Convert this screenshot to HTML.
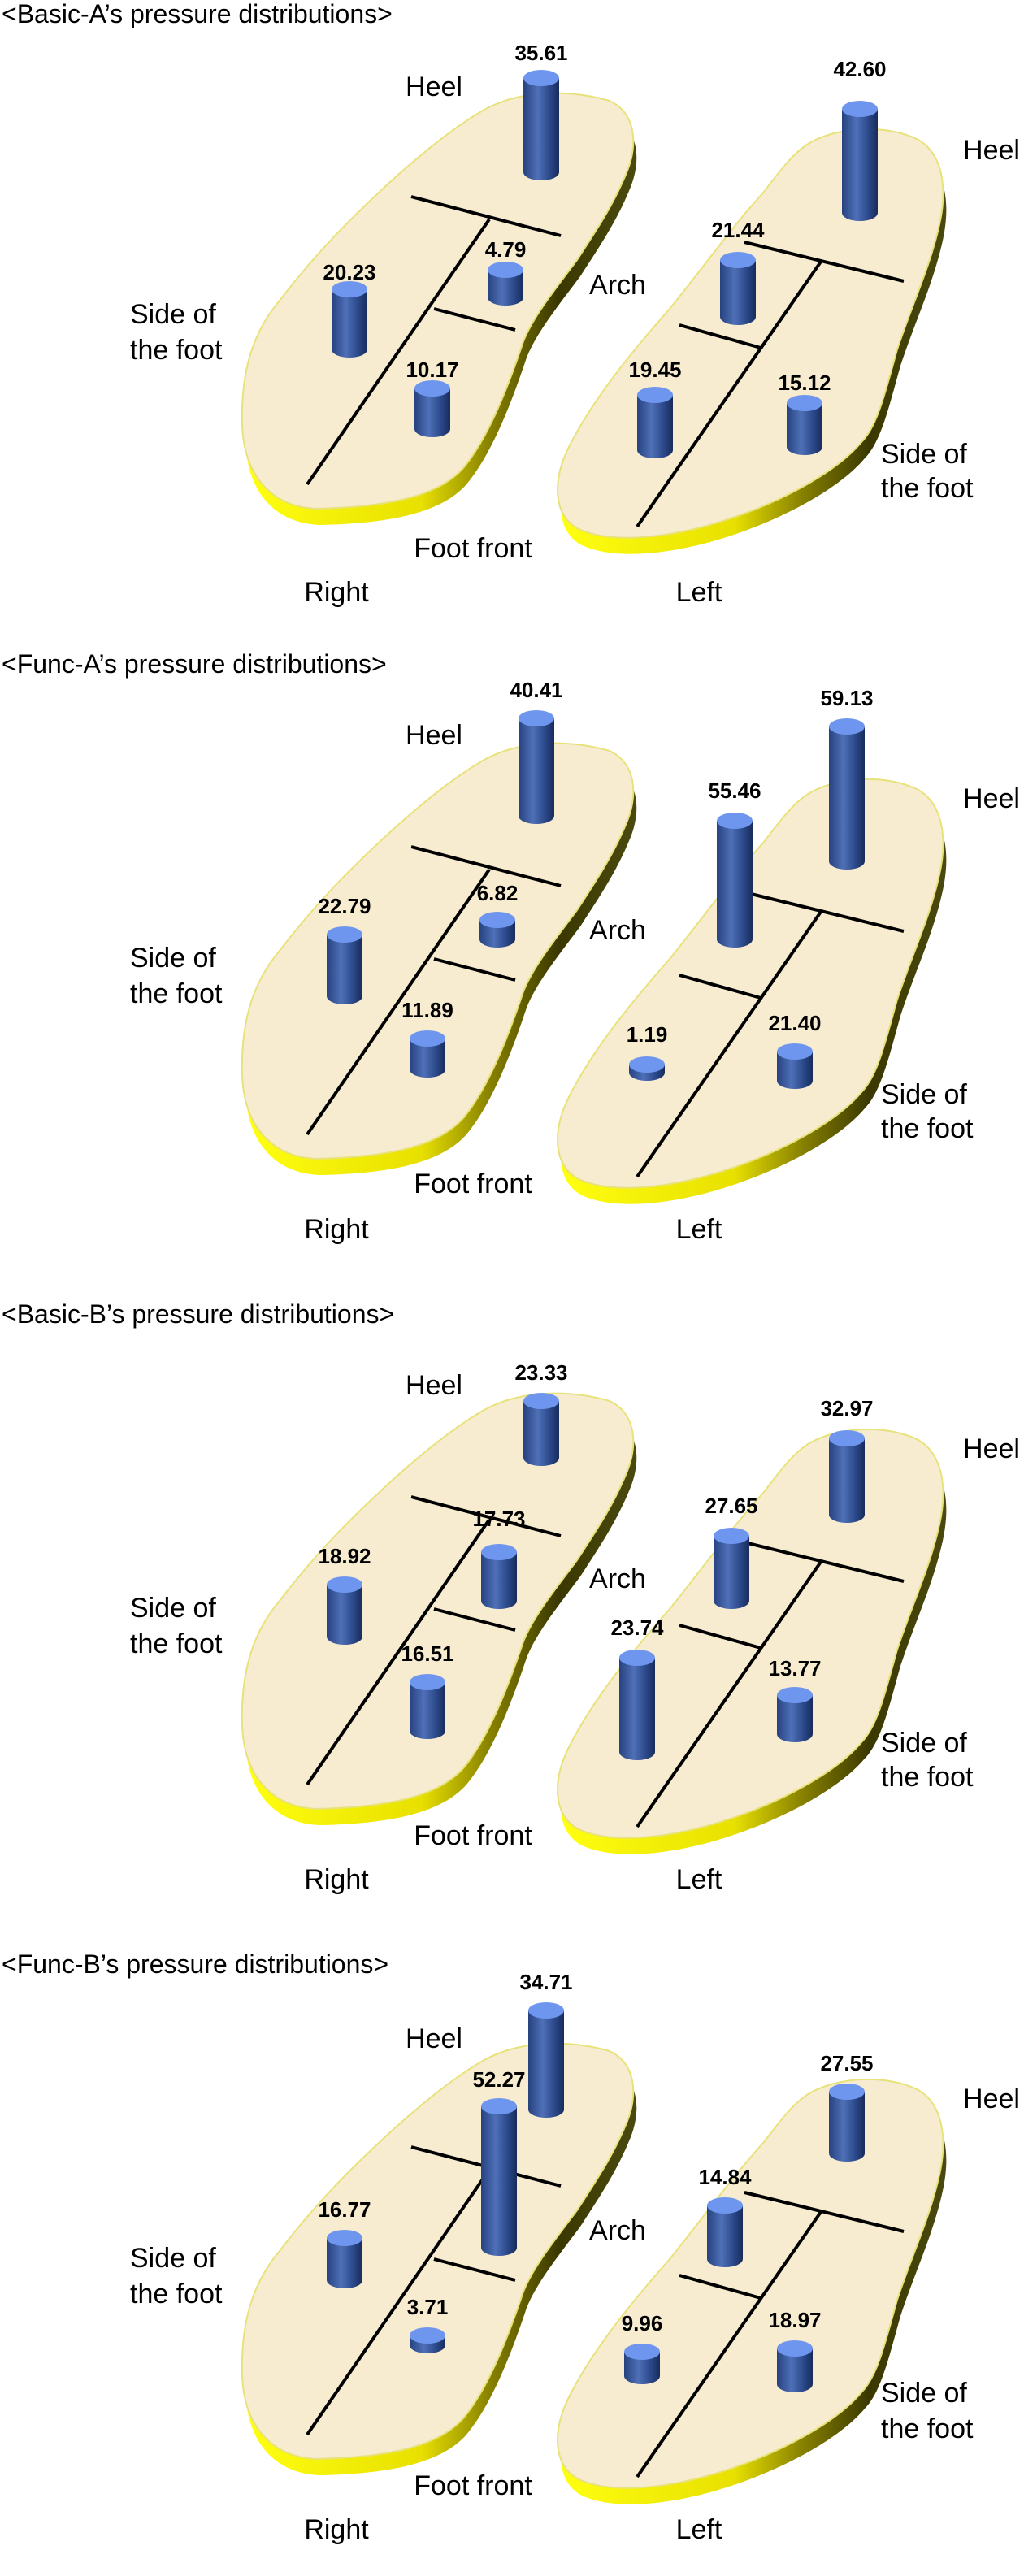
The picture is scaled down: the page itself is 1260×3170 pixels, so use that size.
<!DOCTYPE html>
<html><head><meta charset="utf-8"><style>
html,body{margin:0;padding:0;background:#fff;}
svg{display:block;}
text{font-family:"Liberation Sans","DejaVu Sans",sans-serif;}
.lb{font-size:17px;fill:#000;}
.nm{font-size:13px;font-weight:bold;fill:#000;text-anchor:middle;}
.tt{font-size:16px;fill:#000;}
.ln{stroke:#000;stroke-width:2;fill:none;}
</style></head><body>
<svg width="1260" height="3170" viewBox="0 0 630 1585" xmlns="http://www.w3.org/2000/svg">
<defs>
<linearGradient id="rim" x1="0" y1="0" x2="1" y2="0">
<stop offset="0" stop-color="#ffff10"/><stop offset="0.45" stop-color="#e8e000"/><stop offset="0.62" stop-color="#8a8400"/><stop offset="0.8" stop-color="#3a3800"/><stop offset="1" stop-color="#4a4a10"/>
</linearGradient>
<linearGradient id="cyl" x1="0" y1="0" x2="1" y2="0">
<stop offset="0" stop-color="#26427e"/><stop offset="0.4" stop-color="#4f70b8"/><stop offset="0.75" stop-color="#2a4788"/><stop offset="1" stop-color="#182c5c"/>
</linearGradient>
<path id="rf" d="M297,68 C320,55 350,55 375,62 C392,70 392,90 386,105 C378,125 368,140 355,160 C340,180 328,195 322,210 C312,240 300,270 285,288 C270,305 240,312 195,313 C165,312 150,290 149,262 C148,230 155,205 172,185 C195,155 215,135 240,112 C262,92 280,78 297,68 Z"/>
<path id="lf" d="M498,88 C515,78 545,76 565,86 C582,96 582,120 578,138 C572,165 562,185 552,215 C545,240 540,262 530,272 C515,290 480,310 440,322 C410,331 375,335 355,325 C340,316 340,295 350,275 C365,245 390,215 412,190 C430,168 450,140 470,118 C480,105 488,94 498,88 Z"/>
<g id="feet">
<use href="#rf" transform="translate(2,10)" fill="url(#rim)"/>
<use href="#rf" fill="#f7ebd0" stroke="#e8e27a" stroke-width="1"/>
<use href="#lf" transform="translate(2,10)" fill="url(#rim)"/>
<use href="#lf" fill="#f7ebd0" stroke="#e8e27a" stroke-width="1"/>
<line class="ln" x1="253" y1="121" x2="345" y2="145"/>
<line class="ln" x1="301" y1="135" x2="189" y2="298"/>
<line class="ln" x1="267" y1="190" x2="317" y2="203"/>
<line class="ln" x1="458" y1="149" x2="556" y2="173"/>
<line class="ln" x1="505" y1="161" x2="392" y2="324"/>
<line class="ln" x1="418" y1="200" x2="468" y2="214"/>
</g>
</defs>

<!-- Panel 1 -->
<g transform="translate(0,0)">
<text class="tt" x="1" y="14">&lt;Basic-A’s pressure distributions&gt;</text>
<use href="#feet"/>
<text class="lb" x="267" y="59" text-anchor="middle">Heel</text>
<text class="lb" x="380" y="181" text-anchor="middle">Arch</text>
<text class="lb" x="80" y="199">Side of</text><text class="lb" x="80" y="221">the foot</text>
<text class="lb" x="291" y="343" text-anchor="middle">Foot front</text>
<text class="lb" x="207" y="370" text-anchor="middle">Right</text>
<text class="lb" x="430" y="370" text-anchor="middle">Left</text>
<text class="lb" x="610" y="98" text-anchor="middle">Heel</text>
<text class="lb" x="542" y="285">Side of</text><text class="lb" x="542" y="306">the foot</text>
<g><rect x="322" y="48" width="22" height="58" fill="url(#cyl)"/><ellipse cx="333" cy="106" rx="11" ry="5" fill="url(#cyl)"/><ellipse cx="333" cy="48" rx="11" ry="5" fill="#6f96ee"/><text class="nm" x="333" y="37">35.61</text></g>
<g><rect x="300" y="166" width="22" height="17" fill="url(#cyl)"/><ellipse cx="311" cy="183" rx="11" ry="5" fill="url(#cyl)"/><ellipse cx="311" cy="166" rx="11" ry="5" fill="#6f96ee"/><text class="nm" x="311" y="158">4.79</text></g>
<g><rect x="204" y="178" width="22" height="37" fill="url(#cyl)"/><ellipse cx="215" cy="215" rx="11" ry="5" fill="url(#cyl)"/><ellipse cx="215" cy="178" rx="11" ry="5" fill="#6f96ee"/><text class="nm" x="215" y="172">20.23</text></g>
<g><rect x="255" y="239" width="22" height="25" fill="url(#cyl)"/><ellipse cx="266" cy="264" rx="11" ry="5" fill="url(#cyl)"/><ellipse cx="266" cy="239" rx="11" ry="5" fill="#6f96ee"/><text class="nm" x="266" y="232">10.17</text></g>
<g><rect x="518" y="67" width="22" height="64" fill="url(#cyl)"/><ellipse cx="529" cy="131" rx="11" ry="5" fill="url(#cyl)"/><ellipse cx="529" cy="67" rx="11" ry="5" fill="#6f96ee"/><text class="nm" x="529" y="47">42.60</text></g>
<g><rect x="443" y="160" width="22" height="35" fill="url(#cyl)"/><ellipse cx="454" cy="195" rx="11" ry="5" fill="url(#cyl)"/><ellipse cx="454" cy="160" rx="11" ry="5" fill="#6f96ee"/><text class="nm" x="454" y="146">21.44</text></g>
<g><rect x="392" y="243" width="22" height="34" fill="url(#cyl)"/><ellipse cx="403" cy="277" rx="11" ry="5" fill="url(#cyl)"/><ellipse cx="403" cy="243" rx="11" ry="5" fill="#6f96ee"/><text class="nm" x="403" y="232">19.45</text></g>
<g><rect x="484" y="248" width="22" height="27" fill="url(#cyl)"/><ellipse cx="495" cy="275" rx="11" ry="5" fill="url(#cyl)"/><ellipse cx="495" cy="248" rx="11" ry="5" fill="#6f96ee"/><text class="nm" x="495" y="240">15.12</text></g>
</g>

<!-- Panel 2 -->
<g transform="translate(0,400)">
<text class="tt" x="1" y="14">&lt;Func-A’s pressure distributions&gt;</text>
<use href="#feet"/>
<text class="lb" x="267" y="58" text-anchor="middle">Heel</text>
<text class="lb" x="380" y="178" text-anchor="middle">Arch</text>
<text class="lb" x="80" y="195">Side of</text><text class="lb" x="80" y="217">the foot</text>
<text class="lb" x="291" y="334" text-anchor="middle">Foot front</text>
<text class="lb" x="207" y="362" text-anchor="middle">Right</text>
<text class="lb" x="430" y="362" text-anchor="middle">Left</text>
<text class="lb" x="610" y="97" text-anchor="middle">Heel</text>
<text class="lb" x="542" y="279">Side of</text><text class="lb" x="542" y="300">the foot</text>
<g><rect x="319" y="42" width="22" height="60" fill="url(#cyl)"/><ellipse cx="330" cy="102" rx="11" ry="5" fill="url(#cyl)"/><ellipse cx="330" cy="42" rx="11" ry="5" fill="#6f96ee"/><text class="nm" x="330" y="29">40.41</text></g>
<g><rect x="295" y="166" width="22" height="12" fill="url(#cyl)"/><ellipse cx="306" cy="178" rx="11" ry="5" fill="url(#cyl)"/><ellipse cx="306" cy="166" rx="11" ry="5" fill="#6f96ee"/><text class="nm" x="306" y="154">6.82</text></g>
<g><rect x="201" y="175" width="22" height="38" fill="url(#cyl)"/><ellipse cx="212" cy="213" rx="11" ry="5" fill="url(#cyl)"/><ellipse cx="212" cy="175" rx="11" ry="5" fill="#6f96ee"/><text class="nm" x="212" y="162">22.79</text></g>
<g><rect x="252" y="239" width="22" height="19" fill="url(#cyl)"/><ellipse cx="263" cy="258" rx="11" ry="5" fill="url(#cyl)"/><ellipse cx="263" cy="239" rx="11" ry="5" fill="#6f96ee"/><text class="nm" x="263" y="226">11.89</text></g>
<g><rect x="510" y="47" width="22" height="83" fill="url(#cyl)"/><ellipse cx="521" cy="130" rx="11" ry="5" fill="url(#cyl)"/><ellipse cx="521" cy="47" rx="11" ry="5" fill="#6f96ee"/><text class="nm" x="521" y="34">59.13</text></g>
<g><rect x="441" y="105" width="22" height="73" fill="url(#cyl)"/><ellipse cx="452" cy="178" rx="11" ry="5" fill="url(#cyl)"/><ellipse cx="452" cy="105" rx="11" ry="5" fill="#6f96ee"/><text class="nm" x="452" y="91">55.46</text></g>
<g><rect x="387" y="255" width="22" height="5" fill="url(#cyl)"/><ellipse cx="398" cy="260" rx="11" ry="5" fill="url(#cyl)"/><ellipse cx="398" cy="255" rx="11" ry="5" fill="#6f96ee"/><text class="nm" x="398" y="241">1.19</text></g>
<g><rect x="478" y="247" width="22" height="18" fill="url(#cyl)"/><ellipse cx="489" cy="265" rx="11" ry="5" fill="url(#cyl)"/><ellipse cx="489" cy="247" rx="11" ry="5" fill="#6f96ee"/><text class="nm" x="489" y="234">21.40</text></g>
</g>

<!-- Panel 3 -->
<g transform="translate(0,800)">
<text class="tt" x="1" y="14">&lt;Basic-B’s pressure distributions&gt;</text>
<use href="#feet"/>
<text class="lb" x="267" y="58" text-anchor="middle">Heel</text>
<text class="lb" x="380" y="177" text-anchor="middle">Arch</text>
<text class="lb" x="80" y="195">Side of</text><text class="lb" x="80" y="217">the foot</text>
<text class="lb" x="291" y="335" text-anchor="middle">Foot front</text>
<text class="lb" x="207" y="362" text-anchor="middle">Right</text>
<text class="lb" x="430" y="362" text-anchor="middle">Left</text>
<text class="lb" x="610" y="97" text-anchor="middle">Heel</text>
<text class="lb" x="542" y="278">Side of</text><text class="lb" x="542" y="299">the foot</text>
<g><rect x="322" y="62" width="22" height="35" fill="url(#cyl)"/><ellipse cx="333" cy="97" rx="11" ry="5" fill="url(#cyl)"/><ellipse cx="333" cy="62" rx="11" ry="5" fill="#6f96ee"/><text class="nm" x="333" y="49">23.33</text></g>
<g><rect x="296" y="155" width="22" height="30" fill="url(#cyl)"/><ellipse cx="307" cy="185" rx="11" ry="5" fill="url(#cyl)"/><ellipse cx="307" cy="155" rx="11" ry="5" fill="#6f96ee"/><text class="nm" x="307" y="139">17.73</text></g>
<g><rect x="201" y="175" width="22" height="32" fill="url(#cyl)"/><ellipse cx="212" cy="207" rx="11" ry="5" fill="url(#cyl)"/><ellipse cx="212" cy="175" rx="11" ry="5" fill="#6f96ee"/><text class="nm" x="212" y="162">18.92</text></g>
<g><rect x="252" y="235" width="22" height="30" fill="url(#cyl)"/><ellipse cx="263" cy="265" rx="11" ry="5" fill="url(#cyl)"/><ellipse cx="263" cy="235" rx="11" ry="5" fill="#6f96ee"/><text class="nm" x="263" y="222">16.51</text></g>
<g><rect x="510" y="85" width="22" height="47" fill="url(#cyl)"/><ellipse cx="521" cy="132" rx="11" ry="5" fill="url(#cyl)"/><ellipse cx="521" cy="85" rx="11" ry="5" fill="#6f96ee"/><text class="nm" x="521" y="71">32.97</text></g>
<g><rect x="439" y="145" width="22" height="40" fill="url(#cyl)"/><ellipse cx="450" cy="185" rx="11" ry="5" fill="url(#cyl)"/><ellipse cx="450" cy="145" rx="11" ry="5" fill="#6f96ee"/><text class="nm" x="450" y="131">27.65</text></g>
<g><rect x="381" y="220" width="22" height="58" fill="url(#cyl)"/><ellipse cx="392" cy="278" rx="11" ry="5" fill="url(#cyl)"/><ellipse cx="392" cy="220" rx="11" ry="5" fill="#6f96ee"/><text class="nm" x="392" y="206">23.74</text></g>
<g><rect x="478" y="243" width="22" height="24" fill="url(#cyl)"/><ellipse cx="489" cy="267" rx="11" ry="5" fill="url(#cyl)"/><ellipse cx="489" cy="243" rx="11" ry="5" fill="#6f96ee"/><text class="nm" x="489" y="231">13.77</text></g>
</g>

<!-- Panel 4 -->
<g transform="translate(0,1200)">
<text class="tt" x="1" y="14">&lt;Func-B’s pressure distributions&gt;</text>
<use href="#feet"/>
<text class="lb" x="267" y="60" text-anchor="middle">Heel</text>
<text class="lb" x="380" y="178" text-anchor="middle">Arch</text>
<text class="lb" x="80" y="195">Side of</text><text class="lb" x="80" y="217">the foot</text>
<text class="lb" x="291" y="335" text-anchor="middle">Foot front</text>
<text class="lb" x="207" y="362" text-anchor="middle">Right</text>
<text class="lb" x="430" y="362" text-anchor="middle">Left</text>
<text class="lb" x="610" y="97" text-anchor="middle">Heel</text>
<text class="lb" x="542" y="278">Side of</text><text class="lb" x="542" y="300">the foot</text>
<g><rect x="325" y="37" width="22" height="61" fill="url(#cyl)"/><ellipse cx="336" cy="98" rx="11" ry="5" fill="url(#cyl)"/><ellipse cx="336" cy="37" rx="11" ry="5" fill="#6f96ee"/><text class="nm" x="336" y="24">34.71</text></g>
<g><rect x="296" y="96" width="22" height="87" fill="url(#cyl)"/><ellipse cx="307" cy="183" rx="11" ry="5" fill="url(#cyl)"/><ellipse cx="307" cy="96" rx="11" ry="5" fill="#6f96ee"/><text class="nm" x="307" y="84">52.27</text></g>
<g><rect x="201" y="177" width="22" height="26" fill="url(#cyl)"/><ellipse cx="212" cy="203" rx="11" ry="5" fill="url(#cyl)"/><ellipse cx="212" cy="177" rx="11" ry="5" fill="#6f96ee"/><text class="nm" x="212" y="164">16.77</text></g>
<g><rect x="252" y="237" width="22" height="6" fill="url(#cyl)"/><ellipse cx="263" cy="243" rx="11" ry="5" fill="url(#cyl)"/><ellipse cx="263" cy="237" rx="11" ry="5" fill="#6f96ee"/><text class="nm" x="263" y="224">3.71</text></g>
<g><rect x="510" y="87" width="22" height="38" fill="url(#cyl)"/><ellipse cx="521" cy="125" rx="11" ry="5" fill="url(#cyl)"/><ellipse cx="521" cy="87" rx="11" ry="5" fill="#6f96ee"/><text class="nm" x="521" y="74">27.55</text></g>
<g><rect x="435" y="157" width="22" height="33" fill="url(#cyl)"/><ellipse cx="446" cy="190" rx="11" ry="5" fill="url(#cyl)"/><ellipse cx="446" cy="157" rx="11" ry="5" fill="#6f96ee"/><text class="nm" x="446" y="144">14.84</text></g>
<g><rect x="384" y="247" width="22" height="15" fill="url(#cyl)"/><ellipse cx="395" cy="262" rx="11" ry="5" fill="url(#cyl)"/><ellipse cx="395" cy="247" rx="11" ry="5" fill="#6f96ee"/><text class="nm" x="395" y="234">9.96</text></g>
<g><rect x="478" y="245" width="22" height="22" fill="url(#cyl)"/><ellipse cx="489" cy="267" rx="11" ry="5" fill="url(#cyl)"/><ellipse cx="489" cy="245" rx="11" ry="5" fill="#6f96ee"/><text class="nm" x="489" y="232">18.97</text></g>
</g>
</svg>
</body></html>
